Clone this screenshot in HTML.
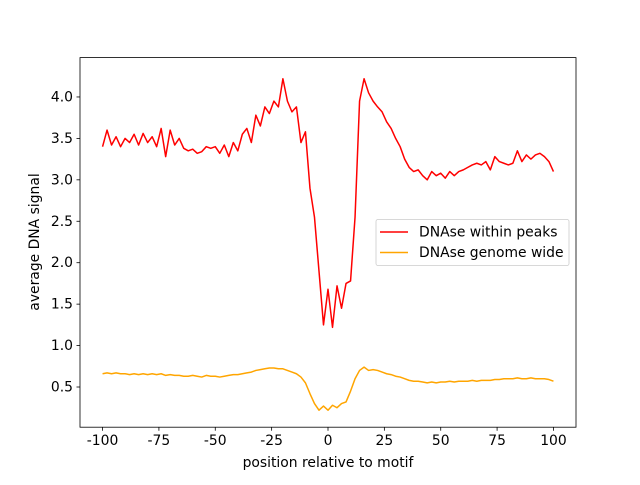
<!DOCTYPE html>
<html><head><meta charset="utf-8"><style>
body{margin:0;background:#fff}
svg text{font-family:"DejaVu Sans","Liberation Sans",sans-serif;font-size:13.9px;fill:#000}
</style></head><body>
<svg id="chart" width="640" height="480">
<rect width="640" height="480" fill="#fff"/>
<g id="plot"></g>
</svg>
<script>
const positions = [];
for (let p = -100; p <= 100; p += 2) positions.push(p);
const withinPeaks = [3.40,3.60,3.42,3.52,3.40,3.50,3.45,3.55,3.42,3.56,3.45,3.52,3.40,3.62,3.28,3.60,3.42,3.50,3.38,3.35,3.37,3.32,3.34,3.40,3.38,3.40,3.32,3.42,3.28,3.45,3.35,3.55,3.62,3.45,3.78,3.65,3.88,3.80,3.95,3.88,4.22,3.95,3.82,3.88,3.45,3.58,2.90,2.55,1.90,1.25,1.68,1.22,1.72,1.45,1.75,1.78,2.55,3.95,4.22,4.05,3.95,3.88,3.82,3.70,3.62,3.50,3.40,3.25,3.15,3.10,3.12,3.05,3.00,3.10,3.05,3.08,3.02,3.10,3.05,3.10,3.12,3.15,3.18,3.20,3.18,3.22,3.12,3.28,3.22,3.20,3.18,3.20,3.35,3.22,3.30,3.25,3.30,3.32,3.28,3.22,3.10];
const genomeWide = [0.66,0.67,0.66,0.67,0.66,0.66,0.65,0.66,0.65,0.66,0.65,0.66,0.65,0.66,0.64,0.65,0.64,0.64,0.63,0.63,0.64,0.63,0.62,0.64,0.63,0.63,0.62,0.63,0.64,0.65,0.65,0.66,0.67,0.68,0.70,0.71,0.72,0.73,0.73,0.72,0.72,0.70,0.68,0.66,0.62,0.55,0.42,0.30,0.22,0.27,0.22,0.28,0.25,0.30,0.32,0.45,0.60,0.70,0.74,0.70,0.71,0.70,0.68,0.66,0.65,0.63,0.62,0.60,0.58,0.57,0.57,0.56,0.55,0.56,0.55,0.56,0.56,0.57,0.56,0.57,0.57,0.57,0.58,0.57,0.58,0.58,0.58,0.59,0.59,0.60,0.60,0.60,0.61,0.60,0.60,0.61,0.60,0.60,0.60,0.59,0.57];
const xTicks = [-100,-75,-50,-25,0,25,50,75,100];
const yTicks = [0.5,1.0,1.5,2.0,2.5,3.0,3.5,4.0];

const L=80,R=576,T=57.6,B=427.2;
const xmin=-110,xmax=110,ymin=0.015,ymax=4.475;
const sx=v=>L+(v-xmin)/(xmax-xmin)*(R-L);
const sy=v=>B-(v-ymin)/(ymax-ymin)*(B-T);
const NS='http://www.w3.org/2000/svg';
const g=document.getElementById('plot');
function mk(tag,attrs,parent){const e=document.createElementNS(NS,tag);for(const k in attrs)e.setAttribute(k,attrs[k]);(parent||g).appendChild(e);return e;}

function series(vals,color,name){
  const d=vals.map((v,i)=>(i?'L':'M')+sx(positions[i]).toFixed(2)+','+sy(v).toFixed(2)).join('');
  const p=mk('path',{d:d,fill:'none',stroke:color,'stroke-width':1.5,'stroke-linejoin':'round'});
  
  
}
series(withinPeaks,'#ff0000','line-dnase-within-peaks');
series(genomeWide,'#ffa500','line-dnase-genome-wide');

const frame=mk('rect',{x:L,y:T,width:R-L,height:B-T,fill:'none',stroke:'#000','stroke-width':0.8});



xTicks.forEach(t=>{
  const x=sx(t);
  mk('line',{x1:x,x2:x,y1:B,y2:B+3.5,stroke:'#000','stroke-width':0.8});
  const tx=mk('text',{x:x,y:B+18,'text-anchor':'middle'});tx.textContent=t;
  
  
});
yTicks.forEach(t=>{
  const y=sy(t);
  mk('line',{x1:L-3.5,x2:L,y1:y,y2:y,stroke:'#000','stroke-width':0.8});
  const tx=mk('text',{x:L-7,y:y+4.5,'text-anchor':'end'});tx.textContent=t.toFixed(1);
  
  
});
const xt=mk('text',{x:(L+R)/2,y:467,'text-anchor':'middle'});xt.textContent='position relative to motif';


const yt=mk('text',{x:0,y:0,'text-anchor':'middle',transform:'translate(39,242) rotate(-90)'});yt.textContent='average DNA signal';



const lg=mk('g',{});


mk('rect',{x:376,y:219.5,width:193,height:46,rx:2,fill:'#fff','fill-opacity':0.8,stroke:'#ccc','stroke-width':0.8},lg);
[['DNAse within peaks','#ff0000',232],['DNAse genome wide','#ffa500',252.5]].forEach(([n,c,y])=>{
  mk('line',{x1:380,x2:408,y1:y,y2:y,stroke:c,'stroke-width':1.5},lg);
  const t=mk('text',{x:419,y:y+4.5},lg);t.textContent=n;
  
  
});
</script>
</body></html>
